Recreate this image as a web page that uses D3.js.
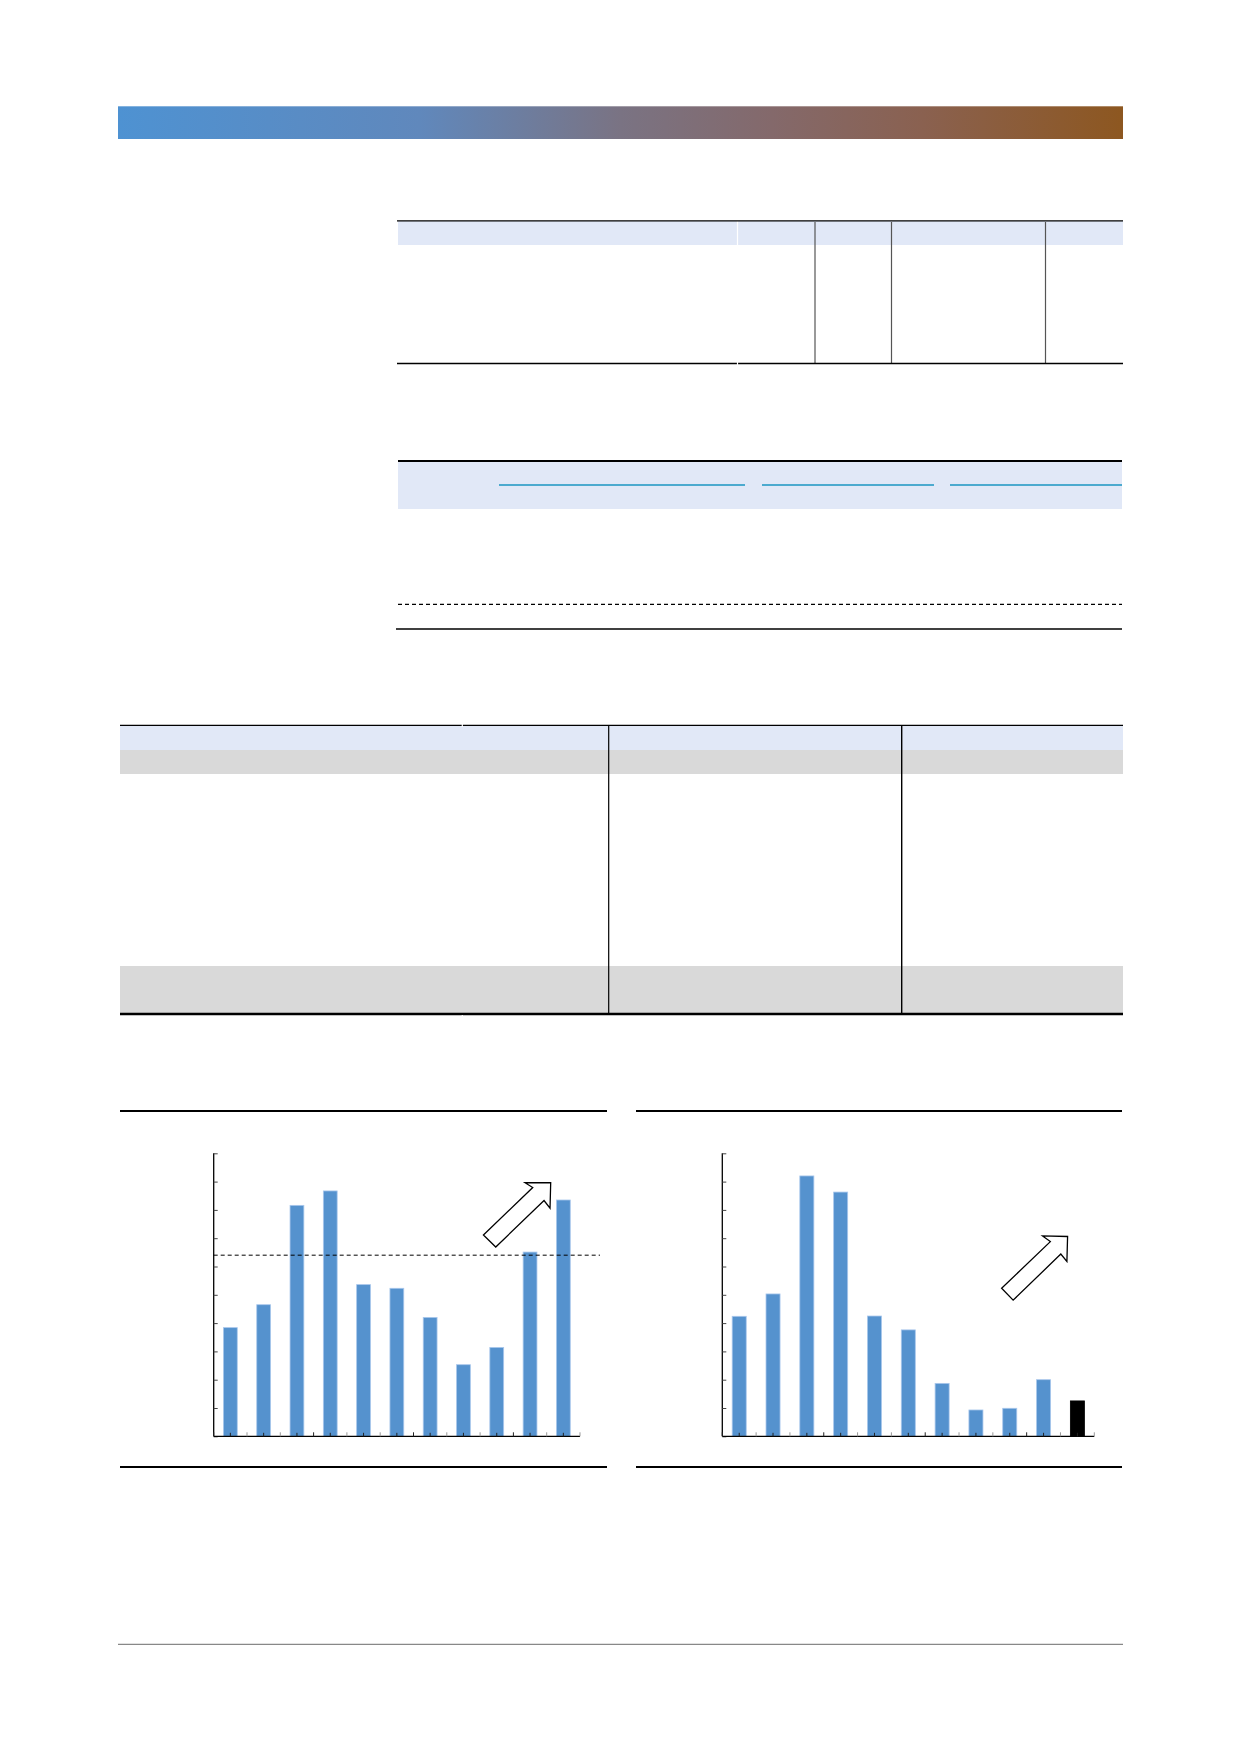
<!DOCTYPE html>
<html>
<head>
<meta charset="utf-8">
<script src="https://cdn.jsdelivr.net/npm/d3@7"></script>
<style>
  html, body { margin: 0; padding: 0; background: #fff; }
  svg { display: block; }
</style>
</head>
<body>
<script>
// ---------- DATA ----------
const categories = ["1","2","3","4","5","6","7","8","9","10","11"];
const chart1Values = [38.4, 46.5, 81.6, 86.7, 53.6, 52.3, 42.0, 25.3, 31.4, 65.1, 83.5];
const chart1Reference = 64.0;
const chart2Values = [42.4, 50.3, 92.0, 86.3, 42.5, 37.6, 18.7, 9.3, 9.9, 20.0, 12.5];
const chart2Highlight = ["11"];
const yTickValues = [0,10,20,30,40,50,60,70,80,90,100];
// trend arrows in data space: [category index position, value]
const arrow1 = [[8.10,71.1],[9.58,87.9],[9.35,89.6],[10.12,89.6],[10.10,80.6],[9.92,83.3],[8.47,66.9]];
const arrow2 = [[8.26,52.3],[9.70,68.8],[9.47,70.8],[10.21,70.6],[10.19,61.8],[10.01,64.4],[8.60,48.1]];

// ---------- PAGE ----------
const W = 1240, H = 1754;
const svg = d3.select("body").append("svg").attr("width", W).attr("height", H);
const defs = svg.append("defs");

// header gradient band
const grad = defs.append("linearGradient").attr("id","hdr").attr("x1","0").attr("x2","1").attr("y1","0").attr("y2","0");
[[0,"#4e92d2"],[0.3,"#6088bc"],[0.5,"#7a7383"],[0.65,"#84696b"],[0.8,"#8a6150"],[1,"#8d5720"]]
  .forEach(([o,c]) => grad.append("stop").attr("offset",o).attr("stop-color",c));
svg.append("rect").attr("x",118).attr("y",106).attr("width",1005).attr("height",33).attr("fill","url(#hdr)");
svg.append("line").attr("x1",118).attr("x2",1123).attr("y1",106.5).attr("y2",106.5).attr("stroke","#ffffff").attr("stroke-opacity",0.3);

function hline(x1,x2,y,w,c,dash){
  const l = svg.append("line").attr("x1",x1).attr("x2",x2).attr("y1",y).attr("y2",y)
    .attr("stroke",c||"#000").attr("stroke-width",w||1);
  if(dash) l.attr("stroke-dasharray",dash);
  return l;
}
function vline(x,y1,y2,w,c){
  return svg.append("line").attr("x1",x).attr("x2",x).attr("y1",y1).attr("y2",y2)
    .attr("stroke",c||"#000").attr("stroke-width",w||1);
}
function rect(x,y,w,h,c){ return svg.append("rect").attr("x",x).attr("y",y).attr("width",w).attr("height",h).attr("fill",c); }

const lightBlue = "#e1e8f7", gray = "#d9d9d9";

// ---------- TABLE 1 ----------
rect(398,221,725,24,lightBlue);
vline(737.5,221,245,1.2,"#ffffff");
[815,891.5,1045.5].forEach(x => vline(x,222,363,1.2,"#555"));
hline(397,1123,220.8,1.3,"#000");
hline(397,1123,363.6,1.5,"#000");
vline(737.5,362,365,1.2,"#fff");

// ---------- TABLE 2 ----------
rect(398,461,724,48,lightBlue);
hline(398,1122,461,2.2,"#000");
[[499,745],[762,934],[950,1122]].forEach(([a,b]) => hline(a,b,485,1.3,"#1a96c2"));
hline(398,1122,604.3,1.2,"#000","4,3");
hline(396,1122,629,1.4,"#000");

// ---------- TABLE 3 ----------
rect(120,726,1003,24,lightBlue);
rect(120,750,1003,24,gray);
rect(120,966,1003,47,gray);
hline(120,1123,725.3,1.3,"#000");
vline(462.3,724,727,1.2,"#fff");
vline(608.7,725,1013,1.2,"#000");
vline(901.7,725,1013,1.4,"#000");
hline(120,1123,1014,2.4,"#000");
vline(462.3,1015,1016.5,1.2,"#fff");

// ---------- CHARTS ----------
function drawChart(cfg){
  const g = svg.append("g");
  // frame rules
  hline(cfg.ruleX[0],cfg.ruleX[1],1111,2,"#000");
  hline(cfg.ruleX[0],cfg.ruleX[1],1467,2,"#000");

  const x = d3.scaleBand().domain(categories).range([cfg.x0,cfg.x1]).padding(0);
  const xi = d3.scaleLinear().domain([0,categories.length]).range([cfg.x0,cfg.x1]);
  const y = d3.scaleLinear().domain([0,100]).range([1436.3,1153.3]);
  const bw = x.bandwidth()*0.415;

  // bars
  g.selectAll("rect.bar").data(categories.map((c,i)=>({c,v:cfg.values[i]}))).enter()
    .append("rect").attr("class","bar")
    .attr("x",d=>x(d.c)+x.bandwidth()/2-bw/2)
    .attr("width",bw)
    .attr("y",d=>y(d.v))
    .attr("height",d=>y(0)-y(d.v))
    .attr("fill",d=>cfg.highlight.includes(d.c)?"#000":"#5592ce")
    .attr("stroke",d=>cfg.highlight.includes(d.c)?"#000":"#a9c7ec")
    .attr("stroke-width",0.8);

  // y axis
  const ya = g.append("g").attr("transform",`translate(${cfg.x0},0)`)
    .call(d3.axisLeft(y).tickValues(yTickValues).tickSize(-4).tickFormat(""));
  ya.select(".domain").attr("stroke","#000").attr("stroke-width",1.3).attr("d",`M0,${y(100)}V${y(0)}`);
  ya.selectAll(".tick line").attr("stroke","#444").attr("stroke-width",1);

  // x axis: boundary ticks (gray) and category-centre ticks (dark)
  const xa = g.append("g").attr("transform",`translate(0,${y(0)})`)
    .call(d3.axisBottom(x).tickSize(-3.5).tickFormat(""));
  xa.select(".domain").attr("stroke","#000").attr("stroke-width",1.3).attr("d",`M${cfg.x0},0H${cfg.x1}`);
  xa.selectAll(".tick line").attr("stroke","#222").attr("stroke-width",1);
  g.append("g").selectAll("line").data(d3.range(categories.length+1)).enter().append("line")
    .attr("x1",i=>xi(i)).attr("x2",i=>xi(i)).attr("y1",y(0)).attr("y2",y(0)-4)
    .attr("stroke",(i)=> i%3===0?"#222":"#999").attr("stroke-width",1);

  // reference line
  if(cfg.ref!=null){
    g.append("line").attr("x1",cfg.x0).attr("x2",cfg.refEnd).attr("y1",y(cfg.ref)).attr("y2",y(cfg.ref))
      .attr("stroke","#000").attr("stroke-width",1).attr("stroke-dasharray","4,3");
  }

  // trend arrow
  g.append("polygon")
    .attr("points",cfg.arrow.map(([u,v])=>`${xi(u)},${y(v)}`).join(" "))
    .attr("fill","#fff").attr("stroke","#000").attr("stroke-width",1.3).attr("stroke-linejoin","miter");
}

drawChart({values:chart1Values, highlight:[], x0:213.7, x1:580, ruleX:[120,607], ref:chart1Reference, refEnd:600, arrow:arrow1});
drawChart({values:chart2Values, highlight:chart2Highlight, x0:722.3, x1:1094.3, ruleX:[636,1122], ref:null, arrow:arrow2});

// footer rule
hline(118,1123,1644.3,1.3,"#888");
</script>
</body>
</html>
